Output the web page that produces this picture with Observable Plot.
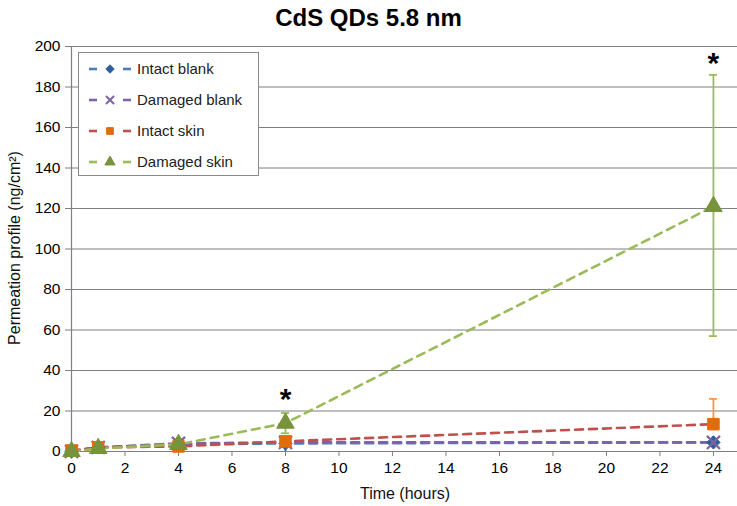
<!DOCTYPE html>
<html><head><meta charset="utf-8">
<script src="https://cdn.jsdelivr.net/npm/d3@7"></script>
<script src="https://cdn.jsdelivr.net/npm/@observablehq/plot@0.6"></script>
<style>
body{margin:0;background:#fff;font-family:"Liberation Sans",Arial,sans-serif;width:737px;height:506px;position:relative;overflow:hidden}
#title{height:36px;line-height:36px;text-align:center;font-weight:bold;font-size:24px;color:#000}
#legend{position:absolute;left:78px;top:52px;width:181px;height:124px;border:1.5px solid #8a8a8a;background:#fff;box-sizing:border-box}
.row{position:absolute;left:0;height:20px;font-size:15px;color:#222;white-space:nowrap}
.row svg{position:absolute;left:8px;top:0}
.row span{position:absolute;left:58px;top:1px}
.axlabel{position:absolute;font-size:16px;color:#111;white-space:nowrap}
#xlabel{left:405px;top:494px;transform:translate(-50%,-50%)}
#ylabel{left:15px;top:248px;transform:translate(-50%,-50%) rotate(-90deg)}
</style></head>
<body>
<div id="title">CdS QDs 5.8 nm</div>
<div id="chart"></div>
<div id="legend"></div>
<div class="axlabel" id="xlabel"></div>
<div class="axlabel" id="ylabel"></div>
<script>
const hours = [0, 1, 4, 8, 24];
const seriesNames = ["Intact blank", "Damaged blank", "Intact skin", "Damaged skin"];
const intactBlank = [0, 2, 3.5, 4, 4.5];
const damagedBlank = [0, 2, 4, 4.5, 4.5];
const intactSkin = [0.5, 2, 2.5, 5, 13.5];
const damagedSkin = [0, 1.5, 3.5, 14, 121];
const lineColors = ["#4a7ebb", "#7e63a8", "#c0504d", "#9bbb59"];
const markerColors = ["#2f5f9a", "#8064a2", "#e36c0a", "#77933c"];
const markerSymbols = ["diamond2", "times", "square", "triangle"];
const markerR = [6, 6, 6.5, 6.5];
const xLabel = "Time (hours)";
const yLabel = "Permeation profile (ng/cm²)";
// error bars
const errSeries = [0, 1, 2, 3, 3];
const errX = [8, 4, 24, 8, 24];
const errLow = [0, 4, 13.5, 9, 57];
const errHigh = [4, 6, 26, 19, 186];
// significance marks
const sigX = [8, 24];
const sigY = [25.5, 191.5];
const xTicks = [0, 2, 4, 6, 8, 10, 12, 14, 16, 18, 20, 22, 24];
const yTicks = [0, 20, 40, 60, 80, 100, 120, 140, 160, 180, 200];

const allValues = [intactBlank, damagedBlank, intactSkin, damagedSkin];
const rows = [];
allValues.forEach((vals, s) => hours.forEach((h, i) => rows.push({s, x: h, y: vals[i]})));
const errs = errX.map((x, i) => ({s: errSeries[i], x, y1: errLow[i], y2: errHigh[i]}));
const sig = sigX.map((x, i) => ({x, y: sigY[i]}));

const marks = [
  Plot.gridY(yTicks, {stroke: "#7f7f7f", strokeOpacity: 1, strokeWidth: 1}),
  Plot.axisY(yTicks, {tickSize: 6, tickPadding: 5, stroke: "#7f7f7f", label: null, fontSize: 15.5}),
  Plot.axisX(xTicks, {tickSize: 5, tickPadding: 5, stroke: "#7f7f7f", label: null, fontSize: 15.5}),
  Plot.ruleX([0], {stroke: "#7f7f7f", strokeWidth: 1.2}),
  Plot.ruleY([0], {stroke: "#7f7f7f", strokeWidth: 1.2})
];
for (let s = 0; s < 4; s++) {
  marks.push(Plot.line(rows.filter(d => d.s === s), {x: "x", y: "y", stroke: lineColors[s], strokeWidth: 2.6, strokeDasharray: "8,6"}));
}
for (let s = 0; s < 4; s++) {
  const e = errs.filter(d => d.s === s);
  const ec = s === 2 ? "#f79646" : s === 3 ? "#9bbb59" : markerColors[s];
  marks.push(Plot.ruleX(e, {x: "x", y1: "y1", y2: "y2", stroke: ec, strokeWidth: 1.8}));
  marks.push(Plot.ruleY(e, {y: "y2", x1: d => d.x - 0.15, x2: d => d.x + 0.15, stroke: ec, strokeWidth: 1.8}));
  marks.push(Plot.ruleY(e.filter(d => d.s === 3), {y: "y1", x1: d => d.x - 0.15, x2: d => d.x + 0.15, stroke: ec, strokeWidth: 1.8}));
  const pts = rows.filter(d => d.s === s);
  if (markerSymbols[s] === "times") {
    marks.push(Plot.dot(pts, {x: "x", y: "y", symbol: "times", r: markerR[s], stroke: markerColors[s], strokeWidth: 2.2}));
  } else {
    marks.push(Plot.dot(pts, {x: "x", y: "y", symbol: markerSymbols[s], r: markerR[s], fill: markerColors[s], stroke: markerColors[s], strokeWidth: 1}));
  }
}
marks.push(Plot.text(sig, {x: "x", y: "y", text: () => "*", fontSize: 30, fontWeight: "bold", fill: "#000"}));

const chart = Plot.plot({
  width: 737, height: 470,
  marginTop: 10, marginBottom: 55, marginLeft: 71, marginRight: 0,
  x: {domain: [0, 24.9]},
  y: {domain: [0, 200]},
  style: {fontFamily: "'Liberation Sans', Arial, sans-serif", fontSize: "15.5px", color: "#000", background: "#fff"},
  marks
});
document.getElementById("chart").appendChild(chart);
document.getElementById("xlabel").textContent = xLabel;
document.getElementById("ylabel").textContent = yLabel;

// legend
const leg = d3.select("#legend");
const rowTops = [6, 37, 68, 99];
seriesNames.forEach((name, s) => {
  const r = leg.append("div").attr("class", "row").style("top", rowTops[s] + "px").style("width", "175px");
  const svg = r.append("svg").attr("width", 46).attr("height", 20);
  svg.append("line").attr("x1", 2).attr("x2", 10).attr("y1", 10).attr("y2", 10).attr("stroke", lineColors[s]).attr("stroke-width", 2.6);
  svg.append("line").attr("x1", 36).attr("x2", 44).attr("y1", 10).attr("y2", 10).attr("stroke", lineColors[s]).attr("stroke-width", 2.6);
  const symMap = {diamond2: d3.symbolDiamond2, times: d3.symbolTimes, square: d3.symbolSquare, triangle: d3.symbolTriangle};
  const p = d3.symbol(symMap[markerSymbols[s]], 45)();
  const g = svg.append("path").attr("d", p).attr("transform", "translate(23,10)");
  if (markerSymbols[s] === "times") g.attr("fill", "none").attr("stroke", markerColors[s]).attr("stroke-width", 2);
  else g.attr("fill", markerColors[s]).attr("stroke", markerColors[s]);
  r.append("span").text(name);
});
</script>
</body></html>
